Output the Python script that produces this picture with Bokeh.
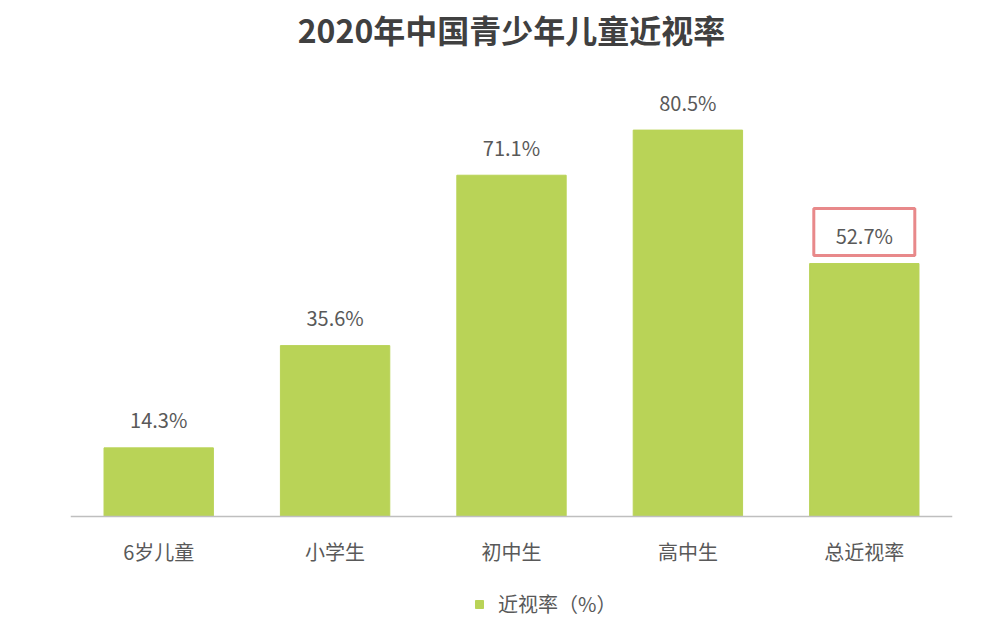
from bokeh.plotting import figure
from bokeh.models import ColumnDataSource, Legend, LegendItem, Range1d, Span
from bokeh.core.properties import value
from bokeh.embed import file_html
from bokeh.resources import INLINE

categories = ["6岁儿童", "小学生", "初中生", "高中生", "总近视率"]
rates = [14.3, 35.6, 71.1, 80.5, 52.7]
labels = ["14.3%", "35.6%", "71.1%", "80.5%", "52.7%"]
series_name = "近视率（%）"
title_text = "2020年中国青少年儿童近视率"
highlight = "总近视率"

FONT = "Noto Sans CJK SC"
GREEN = "#B9D357"
TXT = "#595959"
PX_PER_UNIT = 4.8
BASE_Y = 516        # screen y of the category axis
H = 633
Y_END = BASE_Y / PX_PER_UNIT
Y_START = -(H - BASE_Y) / PX_PER_UNIT

src = ColumnDataSource(dict(cat=categories, rate=rates, label=labels,
                            zero=[0] * len(categories)))

p = figure(x_range=categories, y_range=Range1d(Y_START, Y_END), width=1000, height=H,
           frame_width=882, frame_height=H,
           output_backend="svg", toolbar_location=None,
           min_border_left=70, min_border_right=48, min_border_top=0,
           min_border_bottom=0)

p.outline_line_color = None
p.grid.grid_line_color = None
p.xaxis.visible = False
p.yaxis.visible = False

bars = p.vbar(x="cat", top="rate", width=0.62, source=src, color=GREEN)

# category axis line and labels
p.add_layout(Span(location=0, dimension="width", line_color="#BFBFBF", line_width=1.5))
p.text(x="cat", y="zero", text="cat", source=src, text_align="center",
       text_baseline="middle", y_offset=35, text_font=value(FONT),
       text_font_size="20px", text_color=TXT)

# value labels
p.text(x="cat", y="rate", text="label", source=src, text_align="center",
       text_baseline="middle", y_offset=-28, text_font=value(FONT),
       text_font_size="20px", text_color=TXT)

# chart title, centred over the middle category (= centre of the frame)
p.text(x=[categories[len(categories) // 2]], y=[Y_END], text=[title_text],
       text_align="center", text_baseline="middle", y_offset=28,
       text_font=value(FONT), text_font_size="32px", text_font_style="bold",
       text_color="#404040")

i = categories.index(highlight)
p.rect(x=[highlight], y=[rates[i] + 31.5 / PX_PER_UNIT], width=101, height=47,
       width_units="screen", height_units="screen", fill_color=None,
       line_color="#E8898A", line_width=3)

legend = Legend(items=[LegendItem(label=series_name, renderers=[bars])],
                location=(404, 15), orientation="horizontal",
                glyph_width=10, glyph_height=10, label_standoff=14,
                label_text_font=FONT, label_text_font_size="20px",
                label_text_color=TXT, border_line_color=None,
                background_fill_alpha=0, padding=0, margin=0)
p.add_layout(legend, "center")

open("out.html", "w").write(file_html(p, INLINE))
